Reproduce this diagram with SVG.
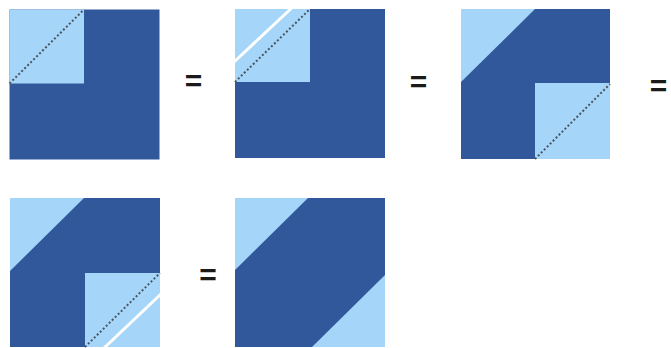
<svg xmlns="http://www.w3.org/2000/svg" width="671" height="348" viewBox="0 0 671 348">
<style>
.dark{fill:#30589A}
.light{fill:#A5D5F8}
.dot{stroke:#4A5560;stroke-width:2;stroke-dasharray:2 2.2;fill:none}
.cut{stroke:#FFFFFF;stroke-width:3;fill:none}
.eq{font-family:"Liberation Sans",Arial,sans-serif;font-weight:bold;font-size:30px;fill:#1a1a1a;text-anchor:middle}
</style>
<rect width="671" height="348" fill="#FFFFFF"/>
<g id="sq1">
<rect class="dark" x="9.5" y="9.5" width="150" height="150"/>
<rect class="light" x="9.5" y="9.5" width="74.5" height="74"/>
<line class="dot" x1="9.5" y1="83.5" x2="84" y2="9.5"/>
</g>
<g id="eq1"><text class="eq" x="193.5" y="91">=</text></g>
<g id="sq2">
<rect class="dark" x="235" y="9" width="150" height="149"/>
<rect class="light" x="235" y="9" width="75" height="73"/>
<line class="dot" x1="235" y1="82" x2="310" y2="9"/>
<line class="cut" x1="234" y1="62" x2="297" y2="3"/>
</g>
<g id="eq2"><text class="eq" x="418.5" y="92">=</text></g>
<g id="sq3">
<rect class="dark" x="461" y="9" width="149" height="150"/>
<polygon class="light" points="461,9 535,9 461,82"/>
<rect class="light" x="535" y="83" width="75" height="76"/>
<line class="dot" x1="535" y1="159" x2="610" y2="84"/>
</g>
<g id="eq3"><text class="eq" x="658.5" y="96">=</text></g>
<g id="sq4">
<rect class="dark" x="10" y="198" width="150" height="149"/>
<polygon class="light" points="10,198 84,198 10,271"/>
<rect class="light" x="85" y="273" width="75" height="74"/>
<line class="dot" x1="85" y1="347" x2="160" y2="273"/>
<line class="cut" x1="104" y1="348" x2="161" y2="294"/>
</g>
<g id="eq4"><text class="eq" x="208" y="285">=</text></g>
<g id="sq5">
<rect class="dark" x="235" y="198" width="150" height="149"/>
<polygon class="light" points="235,198 308,198 235,270"/>
<polygon class="light" points="385,275 385,347 312,347"/>
</g>
<g id="connectors"></g>
</svg>
